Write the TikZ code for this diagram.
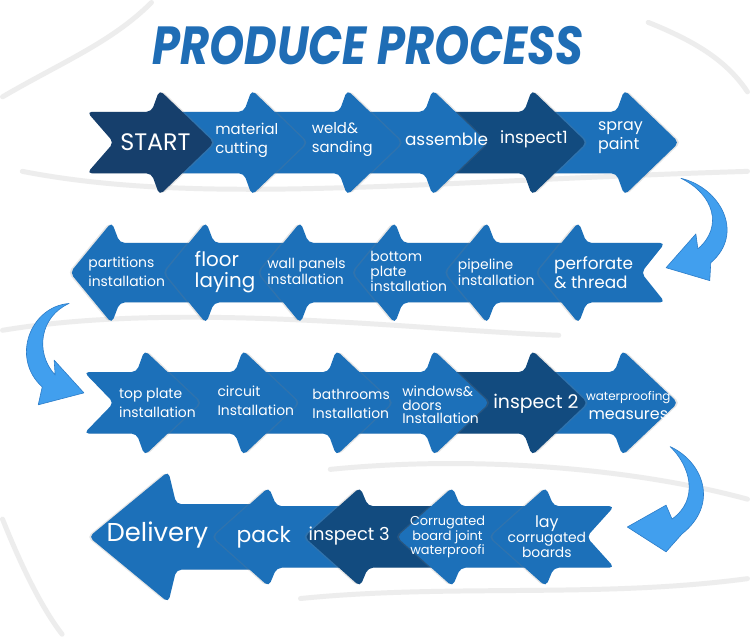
\documentclass[tikz,border=0pt]{standalone}
\usepackage{fontspec}
\setmainfont{Poppins}
\usepackage{tikz}
\usetikzlibrary{shadows}

\definecolor{procblue}{HTML}{1C70B9}
\definecolor{procdark}{HTML}{124B7F}
\definecolor{procnavy}{HTML}{163F6C}
\definecolor{bendblue}{HTML}{419FEE}
\definecolor{bendedge}{HTML}{2B7CC8}
\definecolor{titleblue}{HTML}{1F6DB5}

\newcommand\fsz[2]{\fontsize{#1}{#2}\selectfont}

% band half height, head length, back offset of the bump
\def\bh{31}\def\hl{55}\def\bk{8}

% right pointing step: style, band start, bump x, row y, head half height, notch
\newcommand\rstep[6]{%
  \fill[#1] ({#2},{#4-\bh}) -- ({#3-\bk},{#4-\bh}) -- ({#3},{#4-#5})
    -- ({#3+\hl},{#4}) -- ({#3},{#4+#5}) -- ({#3-\bk},{#4+\bh})
    -- ({#2},{#4+\bh}) -- ({#2+#6},{#4}) -- cycle;}

% left pointing step: style, band end, bump x, row y, head half height, notch
\newcommand\lstep[6]{%
  \fill[#1] ({#2},{#4-\bh}) -- ({#3+\bk},{#4-\bh}) -- ({#3},{#4-#5})
    -- ({#3-\hl},{#4}) -- ({#3},{#4+#5}) -- ({#3+\bk},{#4+\bh})
    -- ({#2},{#4+\bh}) -- ({#2-#6},{#4}) -- cycle;}

\tikzset{
  rblue/.style={fill=procblue,rounded corners=5pt,
    drop shadow={shadow xshift=2pt,shadow yshift=0pt,opacity=.2}},
  lblue/.style={fill=procblue,rounded corners=5pt,
    drop shadow={shadow xshift=-2pt,shadow yshift=0pt,opacity=.2}},
  rdark/.style={rblue,fill=procdark},
  ldark/.style={lblue,fill=procdark},
  lbl/.style={text=white,align=left,inner sep=0pt},
  lblc/.style={lbl,align=center},
  bendarrow/.style={fill=bendblue,draw=bendedge,line width=.6pt,line join=round},
  swirl/.style={draw=black!7,line width=5pt,line cap=round}
}

\begin{document}
\begin{tikzpicture}[x=1pt,y=-1pt]
  \fill[white] (0,0) rectangle (750,636);

  % marble background
  \draw[swirl] (0,95) .. controls (60,60) and (110,40) .. (150,0);
  \draw[swirl] (20,170) .. controls (200,205) and (420,180) .. (750,170);
  \draw[swirl] (0,330) .. controls (180,300) and (420,330) .. (560,335);
  \draw[swirl] (330,470) .. controls (480,455) and (640,470) .. (750,500);
  \draw[swirl] (300,600) .. controls (450,585) and (600,600) .. (750,580);
  \draw[swirl] (0,520) .. controls (20,570) and (40,610) .. (60,636);
  \draw[swirl] (650,20) .. controls (700,40) and (730,60) .. (750,90);

  % title
  \node[text=titleblue,font=\fsz{45}{45}\bfseries\itshape,yscale=1.2] (title)
    at (368,43) {PRODUCE PROCESS};

  % row 1
  \def\bh{31}\def\hl{55}
  \rstep{rblue}{533}{626}{141}{53}{0}
  \rstep{rdark}{433}{533}{141}{53}{0}
  \rstep{rblue}{347}{433}{141}{53}{0}
  \rstep{rblue}{251}{347}{141}{53}{0}
  \rstep{rblue}{158}{251}{141}{53}{0}
  \rstep{rblue,fill=procnavy}{85}{158}{141}{53}{27}

  \node[lbl,font=\fsz{24}{26}] (start) at (154,141) {START};
  \node[lbl,font=\fsz{15}{19}] (cut) at (246,139) {material\\cutting};
  \node[lbl,font=\fsz{15}{19}] (weld) at (342,138) {weld\&\\sanding};
  \node[lbl,font=\fsz{17}{19}] (assemble) at (447,138) {assemble};
  \node[lbl,font=\fsz{17}{19}] (insp1) at (535,138) {inspect1};
  \node[lbl,font=\fsz{16}{20}] (spray) at (622,136) {spray\\paint};

  % row 2
  \def\bh{30}\def\hl{42}
  \lstep{lblue}{205}{110}{272}{51}{0}
  \lstep{lblue}{300}{205}{272}{51}{0}
  \lstep{lblue}{395}{300}{272}{51}{0}
  \lstep{lblue}{488}{395}{272}{51}{0}
  \lstep{lblue}{580}{488}{272}{51}{0}
  \lstep{lblue}{667}{580}{272}{51}{24}

  \node[lbl,font=\fsz{14}{19}] (part) at (125,271) {partitions\\installation};
  \node[lbl,font=\fsz{20}{21}] (floor) at (224,271) {floor\\laying};
  \node[lbl,font=\fsz{14}{16}] (wall) at (306,271) {wall panels\\installation};
  \node[lbl,font=\fsz{14}{15}] (bottom) at (409,271) {bottom\\plate\\installation};
  \node[lbl,font=\fsz{14}{16}] (pipe) at (497,272) {pipeline\\installation};
  \node[lbl,font=\fsz{17}{20}] (perf) at (595,272) {perforate\\\& thread};

  % row 3
  \def\bh{31}\def\hl{56}
  \rstep{rblue}{533}{624}{403}{53}{0}
  \rstep{rdark}{434}{533}{403}{53}{0}
  \rstep{rblue}{336}{434}{403}{53}{0}
  \rstep{rblue}{242}{336}{403}{53}{0}
  \rstep{rblue}{143}{242}{403}{53}{0}
  \rstep{rblue}{82}{143}{403}{53}{30}

  \node[lbl,font=\fsz{14}{19}] (top) at (156,403) {top plate\\installation};
  \node[lbl,font=\fsz{14}{19}] (circuit) at (255,401) {circuit\\Installation};
  \node[lbl,font=\fsz{14}{19}] (bath) at (351,404) {bathrooms\\Installation};
  \node[lbl,font=\fsz{14}{14}] (windows) at (441,405) {windows\&\\doors\\Installation};
  \node[lbl,font=\fsz{19}{20}] (insp2) at (537,404) {inspect 2};
  \node[lblc,font=\fsz{16}{19}] (water) at (630,406)
    {{\fsz{12}{15}waterproofing}\\{\fsz{16}{19}measures}};

  % row 4
  \def\bh{33}\def\hl{80}
  \lstep{lblue}{268}{167}{538}{66}{0}
  \def\bh{31}\def\hl{56}
  \lstep{lblue}{360}{268}{538}{50}{0}
  \lstep{ldark}{453}{360}{538}{50}{0}
  \lstep{lblue}{547}{453}{538}{50}{0}
  \lstep{lblue}{616}{547}{538}{50}{28}

  \node[lbl,font=\fsz{26}{28}] (deliv) at (156,536) {Delivery};
  \node[lbl,font=\fsz{22}{24}] (pack) at (263,538) {pack};
  \node[lbl,font=\fsz{18}{20}] (insp3) at (349,537) {inspect 3};
  \node[lblc,font=\fsz{13}{15}] (corr) at (448,538)
    {Corrugated\\board joint\\waterproofi};
  \node[lblc,font=\fsz{14}{15}] (lay) at (548,538)
    {{\fsz{16}{15}lay}\\{\fsz{14}{15}corrugated}\\{\fsz{14}{15}boards}};

  % bends between the rows
  \coordinate (b1s) at (683,177);
  \coordinate (b1t) at (668,267);
  \filldraw[bendarrow] (b1s) .. controls (722,186) and (748,232) .. (713,262)
    -- (712,280) -- (b1t) -- (698,233) -- (700,248)
    .. controls (726,226) and (716,193) .. (b1s) -- cycle;

  \coordinate (b2s) at (67,303);
  \coordinate (b2t) at (82,393);
  \filldraw[bendarrow] (b2s) .. controls (28,306) and (8,358) .. (40,387)
    -- (36,405) -- (b2t) -- (52,360) -- (53,375)
    .. controls (32,352) and (38,316) .. (b2s) -- cycle;

  \coordinate (b3s) at (672,447);
  \coordinate (b3t) at (629,528);
  \filldraw[bendarrow] (b3s) .. controls (705,462) and (722,505) .. (684,535)
    -- (668,553) -- (b3t) -- (668,506) -- (674,520)
    .. controls (702,500) and (692,466) .. (b3s) -- cycle;
\end{tikzpicture}
\end{document}
